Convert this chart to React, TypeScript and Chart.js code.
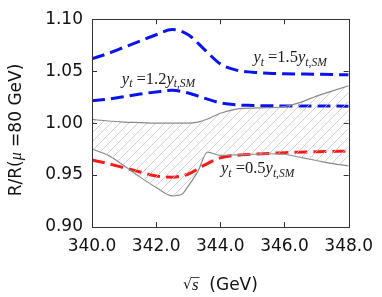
import React, { useEffect, useRef } from "react";
import { Chart, registerables } from "chart.js";

Chart.register(...registerables);

// Data (sqrt(s) in GeV, ratio R/R(mu=80 GeV))
const blue15X = [340, 340.5, 341, 341.5, 342, 342.5, 343, 343.5, 344, 344.5, 345, 345.5, 346, 347, 348];
const blue15Y = [1.062, 1.067, 1.073, 1.079, 1.085, 1.09, 1.085, 1.071, 1.057, 1.051, 1.049, 1.048, 1.0475, 1.047, 1.0465];

const blue12X = [340, 340.5, 341, 341.5, 342, 342.5, 343, 343.5, 344, 344.5, 345, 346, 347, 348];
const blue12Y = [1.0215, 1.023, 1.0255, 1.028, 1.030, 1.0315, 1.029, 1.024, 1.0195, 1.0175, 1.017, 1.0165, 1.0165, 1.0162];

const bandX = [340, 340.5, 341, 341.5, 342, 342.5, 342.8, 343, 343.3, 343.6, 344, 344.5, 345, 345.5, 346, 346.5, 347, 347.5, 348];
const bandUpper = [1.0035, 1.002, 1.001, 1.0005, 1.0, 1.0, 1.0, 1.0, 1.001, 1.004, 1.0095, 1.0135, 1.0145, 1.0148, 1.016, 1.02, 1.026, 1.031, 1.036];
const bandLower = [0.975, 0.969, 0.959, 0.948, 0.938, 0.930, 0.9315, 0.9394, 0.9535, 0.972, 0.969, 0.9695, 0.970, 0.9705, 0.970, 0.967, 0.964, 0.961, 0.959];

const red05X = [340, 340.5, 341, 341.5, 342, 342.5, 343, 343.5, 344, 344.5, 345, 346, 347, 348];
const red05Y = [0.9645, 0.961, 0.957, 0.953, 0.949, 0.948, 0.951, 0.9595, 0.9665, 0.969, 0.970, 0.9715, 0.9725, 0.973];

const xTicks = [340, 342, 344, 346, 348];
const yTicks = [0.9, 0.95, 1.0, 1.05, 1.1];

const labels = [
  { x: 345.03, y: 1.0587, coef: "1.5" },
  { x: 340.93, y: 1.038, coef: "1.2" },
  { x: 344.02, y: 0.9516, coef: "0.5" },
];

const toPts = (xs: number[], ys: number[]) => xs.map((x, i) => ({ x, y: ys[i] }));

function makeHatch(): CanvasPattern | string {
  const c = document.createElement("canvas");
  const s = 9;
  c.width = s;
  c.height = s;
  const g = c.getContext("2d");
  if (!g) return "rgba(0,0,0,0)";
  g.strokeStyle = "#c4c4c4";
  g.lineWidth = 0.8;
  g.beginPath();
  g.moveTo(0, s);
  g.lineTo(s, 0);
  g.moveTo(-1, 1);
  g.lineTo(1, -1);
  g.moveTo(s - 1, s + 1);
  g.lineTo(s + 1, s - 1);
  g.stroke();
  const p = g.createPattern(c, "repeat");
  return p || "rgba(0,0,0,0)";
}

type Part = { t: string; it?: boolean; sub?: boolean };

function drawParts(ctx: CanvasRenderingContext2D, x: number, y: number, parts: Part[], size: number) {
  let cx = x;
  for (const p of parts) {
    const fs = p.sub ? size * 0.7 : size;
    ctx.font = `${p.it ? "italic " : ""}${fs}px 'Liberation Serif', serif`;
    ctx.fillText(p.t, cx, p.sub ? y + size * 0.22 : y);
    cx += ctx.measureText(p.t).width;
  }
}

const overlay = {
  id: "overlay",
  afterDatasetsDraw(chart: any) {
    const ctx: CanvasRenderingContext2D = chart.ctx;
    const xs = chart.scales.x;
    const ys = chart.scales.y;
    const a = chart.chartArea;
    ctx.save();
    // frame
    ctx.strokeStyle = "#333";
    ctx.lineWidth = 1;
    ctx.strokeRect(Math.round(a.left) + 0.5, Math.round(a.top) + 0.5, Math.round(a.right - a.left), Math.round(a.bottom - a.top));
    const tl = 5;
    ctx.beginPath();
    for (const v of xTicks) {
      const px = Math.round(xs.getPixelForValue(v)) + 0.5;
      ctx.moveTo(px, a.bottom);
      ctx.lineTo(px, a.bottom - tl);
      ctx.moveTo(px, a.top);
      ctx.lineTo(px, a.top + tl);
    }
    for (const v of yTicks) {
      const py = Math.round(ys.getPixelForValue(v)) + 0.5;
      ctx.moveTo(a.left, py);
      ctx.lineTo(a.left + tl, py);
      ctx.moveTo(a.right, py);
      ctx.lineTo(a.right - tl, py);
    }
    ctx.stroke();

    // curve labels
    ctx.fillStyle = "#1a1a1a";
    ctx.textBaseline = "alphabetic";
    ctx.textAlign = "left";
    for (const l of labels) {
      drawParts(
        ctx,
        xs.getPixelForValue(l.x),
        ys.getPixelForValue(l.y),
        [
          { t: "y", it: true },
          { t: "t", it: true, sub: true },
          { t: " =" },
          { t: l.coef },
          { t: "y", it: true },
          { t: "t,SM", it: true, sub: true },
        ],
        16.5
      );
    }

    // y title
    ctx.save();
    ctx.translate(17, 130);
    ctx.rotate(-Math.PI / 2);
    ctx.fillStyle = "#111";
    ctx.textBaseline = "middle";
    const yParts: { t: string; f: string }[] = [
      { t: "R/R(", f: "17px 'DejaVu Sans'" },
      { t: "\u03bc", f: "italic 16px 'Liberation Serif'" },
      { t: " =", f: "17px 'DejaVu Sans'" },
      { t: "80 GeV)", f: "17px 'DejaVu Sans'" },
    ];
    let total = 0;
    for (const p of yParts) {
      ctx.font = p.f;
      total += ctx.measureText(p.t).width;
    }
    let cx = -total / 2;
    for (const p of yParts) {
      ctx.font = p.f;
      ctx.fillText(p.t, cx, 0);
      cx += ctx.measureText(p.t).width;
    }
    ctx.restore();

    // x title
    const by = 290;
    const xParts: { t: string; f: string }[] = [
      { t: "\u221a", f: "14px 'DejaVu Serif'" },
      { t: "s", f: "italic 17px 'Liberation Serif'" },
      { t: "  (GeV)", f: "17px 'DejaVu Sans'" },
    ];
    const ws: number[] = [];
    for (const p of xParts) {
      ctx.font = p.f;
      ws.push(ctx.measureText(p.t).width);
    }
    let x0 = 183;
    ctx.fillStyle = "#111";
    ctx.textBaseline = "alphabetic";
    for (let i = 0; i < xParts.length; i++) {
      ctx.font = xParts[i].f;
      ctx.fillText(xParts[i].t, x0, i === 0 ? by - 1 : by);
      if (i === 1) {
        ctx.beginPath();
        ctx.strokeStyle = "#111";
        ctx.lineWidth = 0.8;
        ctx.moveTo(x0 - 1, by - 12.5);
        ctx.lineTo(x0 + ws[i] + 1, by - 12.5);
        ctx.stroke();
      }
      x0 += ws[i];
    }
    ctx.restore();
  },
};

export default function App() {
  const ref = useRef<HTMLCanvasElement>(null);
  useEffect(() => {
    document.body.style.margin = "0";
    if (!ref.current) return;
    const hatch = makeHatch();
    const dashed = (data: any, color: string) => ({
      data,
      borderColor: color,
      borderWidth: 3,
      borderDash: [13, 6],
      pointRadius: 0,
      fill: false,
      cubicInterpolationMode: "monotone" as const,
    });
    const chart = new Chart(ref.current, {
      type: "line",
      data: {
        datasets: [
          {
            data: toPts(bandX, bandUpper),
            borderColor: "#8a8a8a",
            borderWidth: 1.2,
            pointRadius: 0,
            fill: "+1",
            backgroundColor: hatch as any,
            cubicInterpolationMode: "monotone",
          },
          {
            data: toPts(bandX, bandLower),
            borderColor: "#8a8a8a",
            borderWidth: 1.2,
            pointRadius: 0,
            fill: false,
            cubicInterpolationMode: "monotone",
          },
          dashed(toPts(red05X, red05Y), "#ff1a1a"),
          dashed(toPts(blue12X, blue12Y), "#0a14f0"),
          dashed(toPts(blue15X, blue15Y), "#0a14f0"),
        ] as any,
      },
      options: {
        animation: false,
        responsive: false,
        devicePixelRatio: 1,
        layout: { padding: { left: 0, right: 31, top: 14, bottom: 0 } },
        plugins: { legend: { display: false }, tooltip: { enabled: false } },
        scales: {
          x: {
            type: "linear",
            min: 340,
            max: 348,
            afterBuildTicks: (s: any) => {
              s.ticks = xTicks.map((v) => ({ value: v }));
            },
            ticks: {
              callback: (v: any) => Number(v).toFixed(1),
              font: { family: "'DejaVu Sans'", size: 17 },
              color: "#111",
              padding: 9,
              maxRotation: 0,
            },
            grid: { display: false, drawTicks: false },
            border: { display: false },
            afterFit: (s: any) => {
              s.height = 70;
            },
          },
          y: {
            min: 0.9,
            max: 1.1,
            afterBuildTicks: (s: any) => {
              s.ticks = yTicks.map((v) => ({ value: v }));
            },
            ticks: {
              callback: (v: any) => Number(v).toFixed(2),
              font: { family: "'DejaVu Sans'", size: 17 },
              color: "#111",
              padding: 9,
            },
            grid: { display: false, drawTicks: false },
            border: { display: false },
            afterFit: (s: any) => {
              s.width = 92;
            },
          },
        },
      },
      plugins: [overlay],
    });
    return () => chart.destroy();
  }, []);
  return (
    <div style={{ width: 382, height: 297 }}>
      <canvas ref={ref} width={382} height={297} />
    </div>
  );
}
